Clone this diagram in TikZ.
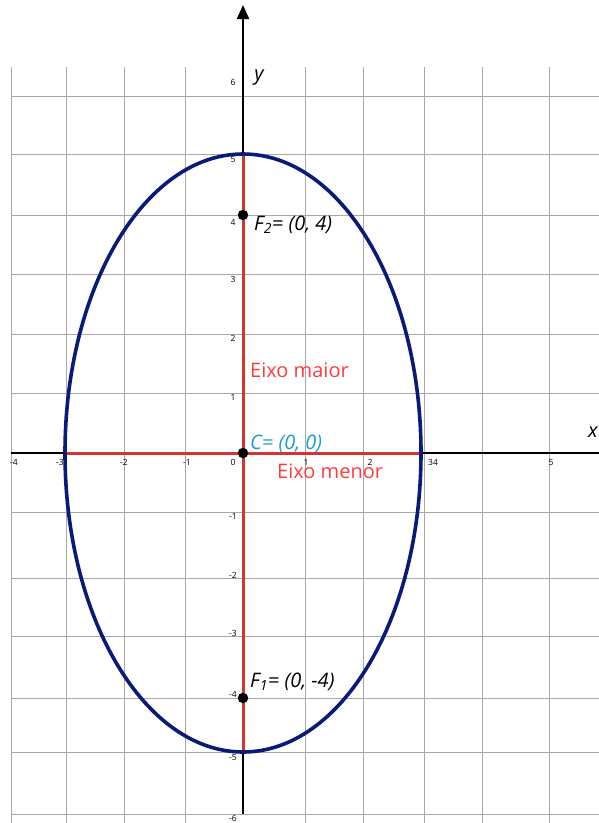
\documentclass[tikz,border=0pt]{standalone}
\usepackage{fontspec}
\setmainfont{Open Sans}
\usepackage{tikz}
\usetikzlibrary{positioning, arrows.meta}

\definecolor{gridgray}{RGB}{170,166,170}
\definecolor{axisred}{RGB}{212,52,48}
\definecolor{redtext}{RGB}{255,60,60}
\definecolor{bluetext}{RGB}{26,154,214}
\definecolor{navy}{RGB}{10,26,120}

\begin{document}
\begin{tikzpicture}[
    x=1pt, y=-1pt,
    gridline/.style={draw=gridgray, line width=0.9pt},
    axis/.style={draw=black, line width=2.2pt},
    mainaxis/.style={draw=axisred, line width=3pt},
    curve/.style={draw=navy, line width=3.6pt},
    dot/.style={circle, fill=black, inner sep=0pt, minimum size=10.5pt},
    tick/.style={font=\fontsize{8.5}{9}\selectfont, inner sep=0pt},
    lbl/.style={font=\fontsize{20}{22}\selectfont\itshape, inner sep=0pt},
    axislbl/.style={font=\fontsize{20}{22}\selectfont, text=redtext, inner sep=0pt}
  ]
    \useasboundingbox (0,0) rectangle (599,823);

    % Grid
    \foreach \gx in {11, 66, 124, 185, 305, 363, 424, 482, 549}
      \draw[gridline] (\gx,67) -- (\gx,823);
    \foreach \gy in {96, 154, 215, 274, 334, 393, 512, 578, 636, 698, 752, 814}
      \draw[gridline] (11,\gy) -- (599,\gy);

    % Coordinates
    \coordinate (xleft) at (11,453);
    \coordinate (xright) at (599,453);
    \coordinate (ybot) at (243,814);
    \coordinate (ytop) at (243,5);
    \coordinate (vtop) at (243,154);
    \coordinate (vbot) at (243,752);
    \coordinate (vleft) at (66,453);
    \coordinate (vright) at (423,453);

    % Axes
    \draw[axis] (xleft) -- (xright);
    \draw[axis, -{Triangle[width=12pt, length=14pt]}] (ybot) -- (ytop);
    \draw[mainaxis] (vbot) -- (vtop);
    \draw[mainaxis] (vleft) -- (vright);

    % Tick labels
    \foreach \tx/\tt in {14/-4, 60/-3, 124/-2, 187/-1, 306/1, 370/2, 433/34, 551/5}
      \node[tick] at (\tx,462) {\tt};
    \foreach \ty/\tt in {82/6, 160/5, 222/4, 279/3, 338/2, 397/1, 462/0, 516/-1, 575/-2, 633/-3, 694/-4, 757/-5, 818/-6}
      \node[tick] at (233,\ty) {\tt};
    \node[lbl] (xlbl) at (593,432) {x};
    \node[lbl] (ylbl) at (259,78) {y};

    % Ellipse
    \draw[curve] (243,453) ellipse [x radius=178pt, y radius=299pt];

    % Points
    \node[dot] (f2) at (243,215) {};
    \node[dot] (c) at (243,453) {};
    \node[dot] (f1) at (243,698) {};

    % Labels
    \node[lbl, anchor=base west] (f2lbl) at (254,230) {F\textsubscript{2}= (0, 4)};
    \node[lbl, anchor=base west, text=bluetext] (clbl) at (250,449) {C= (0, 0)};
    \node[lbl, anchor=base west] (f1lbl) at (250,687) {F\textsubscript{1}= (0, -4)};
    \node[axislbl, anchor=base west] (maior) at (250,377) {Eixo maior};
    \node[axislbl, anchor=base west] (menor) at (277,478) {Eixo menor};
\end{tikzpicture}
\end{document}
